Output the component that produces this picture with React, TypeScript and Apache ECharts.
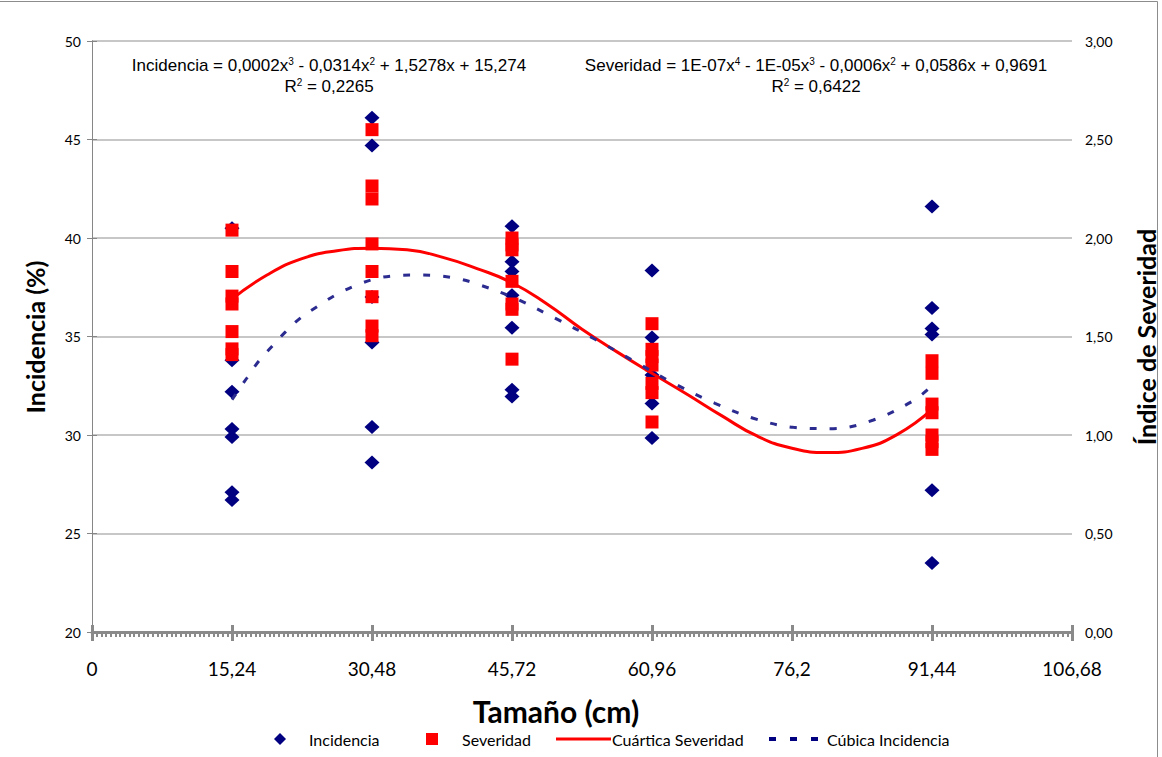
import React, { useEffect, useRef } from "react";
import * as echarts from "echarts";

// ---- Data ----
const xPositions = [15.24, 30.48, 45.72, 60.96, 91.44];
const xTickLabels = ["0", "15,24", "30,48", "45,72", "60,96", "76,2", "91,44", "106,68"];

const incidencia15 = [40.5, 33.8, 32.2, 30.3, 29.9, 27.1, 26.7];
const incidencia30 = [46.1, 44.7, 37.0, 34.7, 30.4, 28.6];
const incidencia45 = [40.6, 38.8, 38.3, 37.1, 35.45, 32.3, 31.95];
const incidencia60 = [38.35, 34.95, 33.05, 31.6, 29.85];
const incidencia91 = [41.6, 36.45, 35.4, 35.1, 27.2, 23.5];

const severidad15 = [2.04, 1.83, 1.705, 1.665, 1.525, 1.437, 1.408];
const severidad30 = [2.55, 2.264, 2.198, 1.97, 1.83, 1.702, 1.553, 1.504];
const severidad45 = [2.0, 1.965, 1.94, 1.78, 1.665, 1.638, 1.385];
const severidad60 = [1.565, 1.435, 1.398, 1.355, 1.262, 1.215, 1.066];
const severidad91 = [1.377, 1.313, 1.157, 1.113, 1.0, 0.966, 0.927];

// trend line "Cúbica Incidencia"
const cubicX = [15.24, 16.84, 18.1, 19.56, 21.01, 22.64, 24.64, 26.64, 28.82, 30.99, 33.17, 35.35, 37.52, 39.7, 41.69, 46.05, 50.4, 54.76, 59.11, 63.46, 67.82, 71.99, 76.35, 80.7, 85.06, 89.41, 91.44];
const cubicY = [31.8, 32.88, 33.72, 34.48, 35.21, 35.92, 36.56, 37.14, 37.61, 37.95, 38.09, 38.12, 38.09, 37.95, 37.7, 36.94, 35.93, 34.86, 33.72, 32.59, 31.61, 30.85, 30.39, 30.32, 30.76, 31.74, 32.5];

// trend line "Cuártica Severidad"
const quarticX = [15.24, 19.05, 22.86, 26.67, 30.48, 34.29, 38.1, 41.91, 45.72, 49.53, 53.34, 57.15, 60.96, 64.77, 68.58, 72.39, 76.2, 80.01, 83.82, 87.63, 91.44];
const quarticY = [1.69, 1.812, 1.895, 1.935, 1.948, 1.94, 1.903, 1.845, 1.773, 1.665, 1.537, 1.422, 1.313, 1.207, 1.097, 0.995, 0.933, 0.911, 0.932, 1.002, 1.13];

const incidenciaGroups = [incidencia15, incidencia30, incidencia45, incidencia60, incidencia91];
const severidadGroups = [severidad15, severidad30, severidad45, severidad60, severidad91];

const CAL = "Lato, 'Open Sans', sans-serif";
const ARIAL = "'Liberation Sans', Arial, sans-serif";

export default function App() {
  const ref = useRef<HTMLDivElement>(null);

  useEffect(() => {
    if (!ref.current) return;
    const chart = echarts.init(ref.current, undefined, { renderer: "svg" });

    const incData: number[][] = [];
    incidenciaGroups.forEach((g, i) => g.forEach((v) => incData.push([xPositions[i], v])));
    const sevData: number[][] = [];
    severidadGroups.forEach((g, i) => g.forEach((v) => sevData.push([xPositions[i], v])));
    const cubicData = cubicX.map((x, i) => [x, cubicY[i]]);
    const quarticData = quarticX.map((x, i) => [x, quarticY[i]]);

    const xFmt = (v: number) => {
      const idx = Math.round(v / 15.24);
      return xTickLabels[idx] ?? "";
    };

    const axisGray = "#868686";
    const supRich = { s: { fontSize: 10, fontFamily: ARIAL, verticalAlign: "top", fill: "#000" } };

    const option: any = {
      animation: false,
      backgroundColor: "#ffffff",
      grid: { left: 92, right: 90, top: 41, bottom: 125, containLabel: false },
      xAxis: [
        {
          type: "value",
          min: 0,
          max: 106.68,
          interval: 15.24,
          axisLine: { show: true, onZero: false, lineStyle: { color: "#8a8a8a", width: 3 } },
          axisTick: { show: true, length: 9, lineStyle: { color: "#8a8a8a", width: 3 } },
          minorTick: { show: true, splitNumber: 30, length: 5, lineStyle: { color: "#8a8a8a", width: 2 } },
          axisLabel: { formatter: xFmt, fontSize: 19, color: "#000", fontFamily: CAL, margin: 27 },
          splitLine: { show: false },
        },
        {
          type: "value",
          position: "bottom",
          min: 0,
          max: 106.68,
          interval: 15.24,
          axisLine: { show: false },
          axisTick: { show: true, inside: true, length: 7, lineStyle: { color: "#8a8a8a", width: 3 } },
          axisLabel: { show: false },
          splitLine: { show: false },
        },
      ],
      yAxis: [
        {
          type: "value",
          position: "left",
          min: 20,
          max: 50,
          interval: 5,
          axisLine: { show: true, lineStyle: { color: axisGray, width: 1 } },
          axisTick: { show: true, length: 5, lineStyle: { color: axisGray } },
          axisLabel: { fontSize: 14, color: "#000", fontFamily: CAL, margin: 11 },
          splitLine: { show: true, lineStyle: { color: "#b4b4b4", width: 1.5 } },
        },
        {
          type: "value",
          position: "right",
          min: 0,
          max: 3,
          interval: 0.5,
          axisLine: { show: true, lineStyle: { color: axisGray, width: 1 } },
          axisTick: { show: true, length: 5, lineStyle: { color: axisGray } },
          axisLabel: {
            fontSize: 14,
            color: "#000",
            fontFamily: CAL,
            margin: 13,
            formatter: (v: number) => v.toFixed(2).replace(".", ","),
          },
          splitLine: { show: false },
        },
      ],
      series: [
        {
          name: "Incidencia",
          type: "scatter",
          xAxisIndex: 0,
          yAxisIndex: 0,
          symbol: "diamond",
          symbolSize: [15, 14],
          itemStyle: { color: "#000080", opacity: 1 },
          data: incData,
          z: 2,
        },
        {
          name: "Severidad",
          type: "scatter",
          xAxisIndex: 0,
          yAxisIndex: 1,
          symbol: "rect",
          symbolSize: 13,
          itemStyle: { color: "#ff0000", opacity: 1 },
          data: sevData,
          z: 3,
        },
        {
          name: "Cuártica Severidad",
          type: "line",
          xAxisIndex: 0,
          yAxisIndex: 1,
          smooth: 0.5,
          showSymbol: false,
          lineStyle: { color: "#ff0000", width: 3 },
          data: quarticData,
          z: 4,
        },
        {
          name: "Cúbica Incidencia",
          type: "line",
          xAxisIndex: 0,
          yAxisIndex: 0,
          smooth: 0.35,
          showSymbol: false,
          lineStyle: { color: "#2b2b90", width: 3, type: [7, 13] },
          data: cubicData,
          z: 5,
        },
      ],
      graphic: [
        // outer frame (top and right)
        { type: "line", shape: { x1: 0, y1: 1.5, x2: 1157.5, y2: 1.5 }, style: { stroke: "#8c8c8c", lineWidth: 1 } },
        { type: "line", shape: { x1: 1157.5, y1: 1.5, x2: 1157.5, y2: 757 }, style: { stroke: "#8c8c8c", lineWidth: 1 } },
        // equations
        {
          type: "text",
          x: 329,
          y: 65,
          style: {
            text: "Incidencia = 0,0002x{s|3} - 0,0314x{s|2} + 1,5278x + 15,274",
            font: `17px ${ARIAL}`,
            fill: "#000",
            align: "center",
            verticalAlign: "middle",
            rich: supRich,
          },
        },
        {
          type: "text",
          x: 329,
          y: 86,
          style: {
            text: "R{s|2} = 0,2265",
            font: `17px ${ARIAL}`,
            fill: "#000",
            align: "center",
            verticalAlign: "middle",
            rich: supRich,
          },
        },
        {
          type: "text",
          x: 816,
          y: 65,
          style: {
            text: "Severidad = 1E-07x{s|4} - 1E-05x{s|3} - 0,0006x{s|2} + 0,0586x + 0,9691",
            font: `17px ${ARIAL}`,
            fill: "#000",
            align: "center",
            verticalAlign: "middle",
            rich: supRich,
          },
        },
        {
          type: "text",
          x: 816,
          y: 86,
          style: {
            text: "R{s|2} = 0,6422",
            font: `17px ${ARIAL}`,
            fill: "#000",
            align: "center",
            verticalAlign: "middle",
            rich: supRich,
          },
        },
        // axis titles
        {
          type: "text",
          x: 556,
          y: 711,
          style: { text: "Tamaño (cm)", font: `bold 30px ${CAL}`, fill: "#000", align: "center", verticalAlign: "middle" },
        },
        {
          type: "text",
          x: 35,
          y: 337,
          rotation: Math.PI / 2,
          style: { text: "Incidencia (%)", font: `bold 25px ${CAL}`, fill: "#000", align: "center", verticalAlign: "middle" },
        },
        {
          type: "text",
          x: 1146,
          y: 337,
          rotation: Math.PI / 2,
          style: { text: "Índice de Severidad", font: `bold 25px ${CAL}`, fill: "#000", align: "center", verticalAlign: "middle" },
        },
        // legend
        {
          type: "polygon",
          shape: { points: [[274, 739], [280, 733], [286, 739], [280, 745]] },
          style: { fill: "#000080" },
        },
        { type: "text", x: 309, y: 739, style: { text: "Incidencia", font: `16px ${CAL}`, fill: "#000", verticalAlign: "middle" } },
        { type: "rect", shape: { x: 426, y: 733, width: 12, height: 12 }, style: { fill: "#ff0000" } },
        { type: "text", x: 462, y: 739, style: { text: "Severidad", font: `16px ${CAL}`, fill: "#000", verticalAlign: "middle" } },
        { type: "line", shape: { x1: 556, y1: 739, x2: 611, y2: 739 }, style: { stroke: "#ff0000", lineWidth: 3 } },
        { type: "text", x: 612, y: 739, style: { text: "Cuártica Severidad", font: `16px ${CAL}`, fill: "#000", verticalAlign: "middle" } },
        { type: "line", shape: { x1: 769, y1: 739, x2: 818, y2: 739 }, style: { stroke: "#000080", lineWidth: 4, lineDash: [7, 14] } },
        { type: "text", x: 827, y: 739, style: { text: "Cúbica Incidencia", font: `16px ${CAL}`, fill: "#000", verticalAlign: "middle" } },
      ],
    };

    chart.setOption(option);
    return () => chart.dispose();
  }, []);

  return (
    <div
      ref={ref}
      style={{ position: "fixed", left: 0, top: 0, width: 1162, height: 757, background: "#fff" }}
    />
  );
}
